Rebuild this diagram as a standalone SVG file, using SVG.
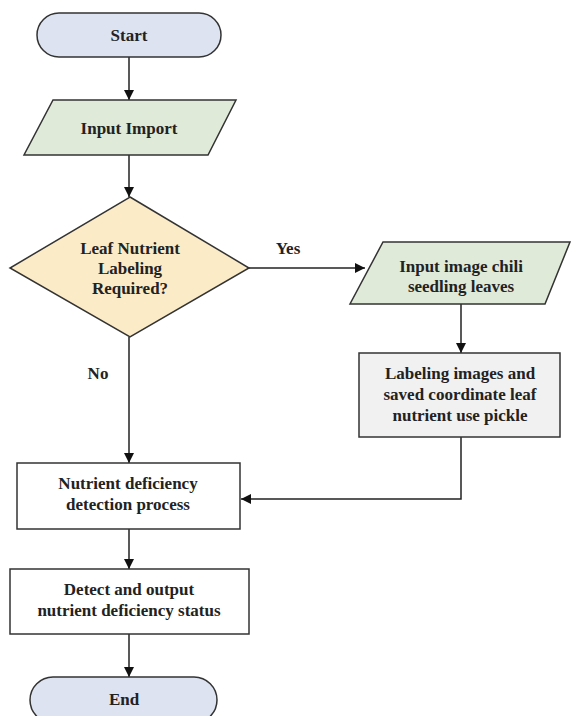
<svg xmlns="http://www.w3.org/2000/svg" width="571" height="716" viewBox="0 0 571 716">
<defs>
<marker id="arr" viewBox="0 0 10 10" refX="10" refY="5" markerWidth="10" markerHeight="10" markerUnits="userSpaceOnUse" orient="auto">
<path d="M0,0 L10,5 L0,10 z" fill="#111"/>
</marker>
<style>
.s{stroke:#333;stroke-width:1.5}
.t{font-family:"Liberation Serif","Times New Roman",serif;font-weight:bold;font-size:17px;fill:#222;text-anchor:middle}
.c{fill:none;stroke:#222;stroke-width:1.5;marker-end:url(#arr)}
.term{fill:#dde3f1}
.io{fill:#e0ead9}
.dec{fill:#fcebc7}
.proc{fill:#ffffff}
.grey{fill:#f1f1f1}
</style>
</defs>
<rect width="571" height="716" fill="#ffffff"/>
<g id="connectors">
<line class="c" x1="129" y1="57" x2="129" y2="100"/>
<line class="c" x1="129" y1="155" x2="129" y2="197"/>
<line class="c" x1="249" y1="268" x2="365" y2="268"/>
<line class="c" x1="461" y1="304" x2="461" y2="353"/>
<line class="c" x1="129" y1="337" x2="129" y2="463"/>
<polyline class="c" points="461,437 461,499 241,499"/>
<line class="c" x1="129" y1="529" x2="129" y2="569"/>
<line class="c" x1="129" y1="634" x2="129" y2="677"/>
<text class="t" x="288" y="254">Yes</text>
<text class="t" x="98" y="379">No</text>
</g>
<g id="start">
<rect class="s term" x="37" y="13" width="184" height="44" rx="22"/>
<text class="t" x="129" y="41">Start</text>
</g>
<g id="input-import">
<polygon class="s io" points="53,100 236,100 208,155 24,155"/>
<text class="t" x="129" y="134">Input Import</text>
</g>
<g id="decision">
<polygon class="s dec" points="130,197 249,268 130,337 10,268"/>
<text class="t" x="130" y="254">Leaf Nutrient</text>
<text class="t" x="130" y="274">Labeling</text>
<text class="t" x="130" y="294">Required?</text>
</g>
<g id="input-image">
<polygon class="s io" points="383,242 570,242 545,304 350,304"/>
<text class="t" x="461" y="272">Input image chili</text>
<text class="t" x="461" y="292">seedling leaves</text>
</g>
<g id="labeling">
<rect class="s grey" x="359" y="353" width="201" height="84"/>
<text class="t" x="460" y="379">Labeling images and</text>
<text class="t" x="460" y="400">saved coordinate leaf</text>
<text class="t" x="460" y="421">nutrient use pickle</text>
</g>
<g id="detection">
<rect class="s proc" x="17" y="463" width="223" height="66"/>
<text class="t" x="128" y="489">Nutrient deficiency</text>
<text class="t" x="128" y="510">detection process</text>
</g>
<g id="output">
<rect class="s proc" x="10" y="569" width="239" height="65"/>
<text class="t" x="129" y="595">Detect and output</text>
<text class="t" x="129" y="616">nutrient deficiency status</text>
</g>
<g id="end">
<rect class="s term" x="30" y="677" width="187" height="46" rx="23"/>
<text class="t" x="124" y="705">End</text>
</g>
</svg>
